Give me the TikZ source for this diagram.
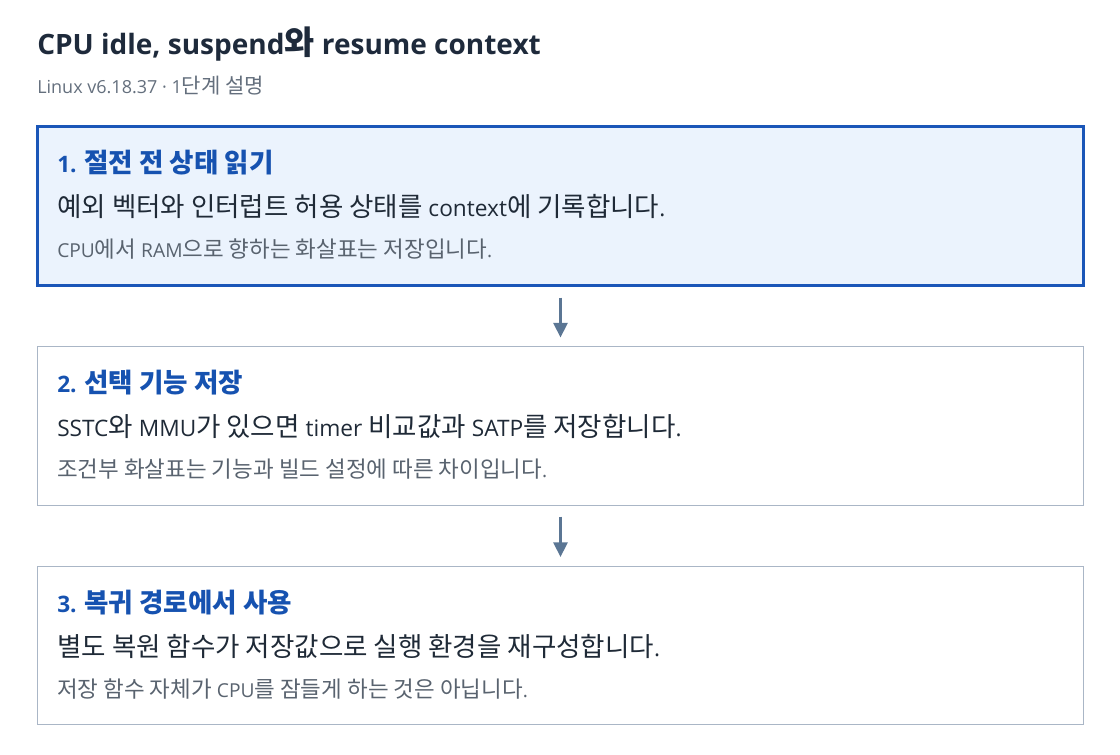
\documentclass[tikz,border=0pt]{standalone}
\usepackage{fontspec}
\setmainfont{Open Sans}
\newfontfamily\krfont{Noto Sans CJK KR}[Scale=1.17]
\newcommand{\ko}[1]{{\krfont #1}}
\usetikzlibrary{arrows.meta}

\definecolor{titlecol}{HTML}{1E2A3B}
\definecolor{subcol}{HTML}{646F7D}
\definecolor{headcol}{HTML}{1652B0}
\definecolor{bodycol}{HTML}{1F2A37}
\definecolor{notecol}{HTML}{59636F}
\definecolor{activeline}{HTML}{1A56B8}
\definecolor{activefill}{HTML}{EBF3FD}
\definecolor{plainline}{HTML}{AAB6C6}
\definecolor{flowcol}{HTML}{5B7694}

\tikzset{
  stepbox/.style={draw=plainline, line width=0.75pt, fill=white,
    minimum width=784.5pt, minimum height=119pt, inner sep=0pt},
  activebox/.style={draw=activeline, line width=2.25pt, fill=activefill},
  steptitle/.style={anchor=base west, inner sep=0pt, text=headcol,
    font=\fontsize{17}{20}\selectfont\bfseries},
  stepbody/.style={anchor=base west, inner sep=0pt, text=bodycol,
    font=\fontsize{17}{20}\selectfont},
  stepnote/.style={anchor=base west, inner sep=0pt, text=notecol,
    font=\fontsize{14.4}{17}\selectfont},
  flow/.style={draw=flowcol, line width=2.25pt,
    -{Triangle[width=10.5pt,length=11pt]}, shorten <=8pt, shorten >=6.5pt}
}

\begin{document}
\begin{tikzpicture}[x=0.75pt,y=-0.75pt]
	\useasboundingbox (0,0) rectangle (1120,754);

	\node[anchor=base west, inner sep=0pt, text=titlecol,
	  font=\fontsize{21}{25}\selectfont\bfseries] (title) at (37,54)
	  {CPU idle, suspend\ko{와} resume context};
	\node[anchor=base west, inner sep=0pt, text=subcol,
	  font=\fontsize{13.5}{16}\selectfont] (sub) at (37,93)
	  {Linux v6.18.37 · 1\ko{단계 설명}};

	% step 1
	\node[stepbox, activebox] (s1) at (560.5,206) {};
	\node[steptitle] (h1) at (57,172) {1. \ko{절전 전 상태 읽기}};
	\node[stepbody] (b1) at (57,216)
	  {\ko{예외 벡터와 인터럽트 허용 상태를} context\ko{에 기록합니다}.};
	\node[stepnote] (n1) at (57,257)
	  {CPU\ko{에서} RAM\ko{으로 향하는 화살표는 저장입니다}.};

	% step 2
	\node[stepbox] (s2) at (560.5,426) {};
	\node[steptitle] (h2) at (57,392) {2. \ko{선택 기능 저장}};
	\node[stepbody] (b2) at (57,436)
	  {SSTC\ko{와} MMU\ko{가 있으면} timer \ko{비교값과} SATP\ko{를 저장합니다}.};
	\node[stepnote] (n2) at (57,477)
	  {\ko{조건부 화살표는 기능과 빌드 설정에 따른 차이입니다}.};

	% step 3
	\node[stepbox] (s3) at (560.5,645.5) {};
	\node[steptitle] (h3) at (57,612) {3. \ko{복귀 경로에서 사용}};
	\node[stepbody] (b3) at (57,656)
	  {\ko{별도 복원 함수가 저장값으로 실행 환경을 재구성합니다}.};
	\node[stepnote] (n3) at (57,697)
	  {\ko{저장 함수 자체가} CPU\ko{를 잠들게 하는 것은 아닙니다}.};

	\draw[flow] (s1.south) -- (s2.north);
	\draw[flow] (s2.south) -- (s3.north);
\end{tikzpicture}
\end{document}
